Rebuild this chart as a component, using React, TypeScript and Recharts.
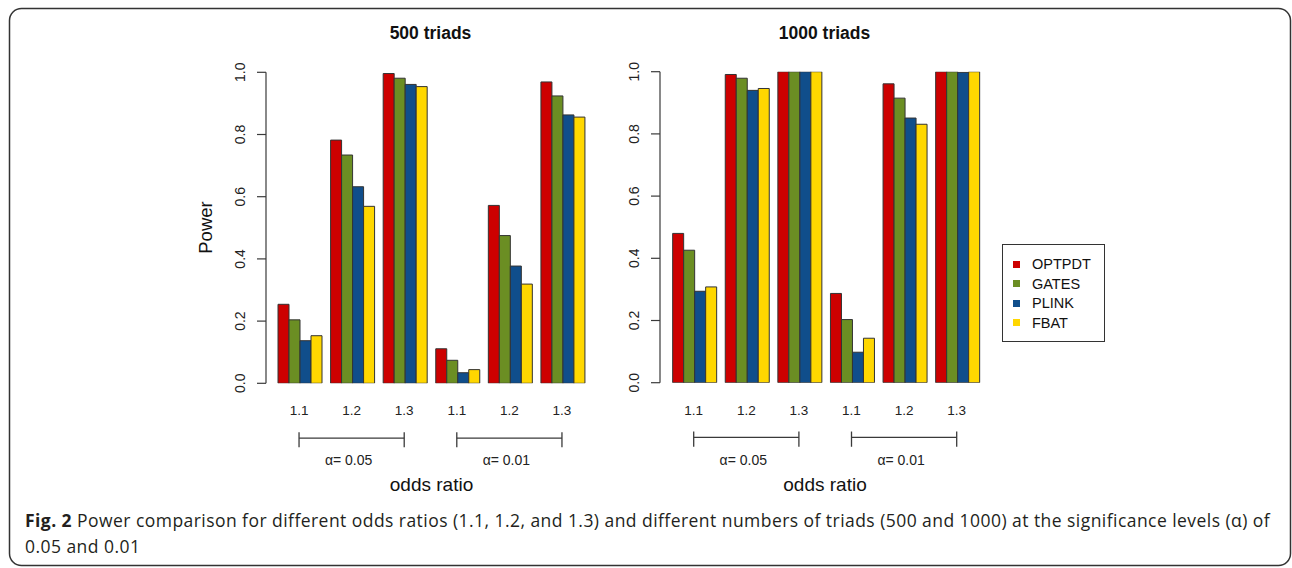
import React from 'react';
import { BarChart, Bar, XAxis, YAxis, ReferenceLine, ReferenceDot, Legend } from 'recharts';

const categories = ['1.1', '1.2', '1.3', '1.1', '1.2', '1.3'];
const groupKeys = ['a05-1.1', 'a05-1.2', 'a05-1.3', 'a01-1.1', 'a01-1.2', 'a01-1.3'];
const seriesNames = ['OPTPDT', 'GATES', 'PLINK', 'FBAT'];
const seriesColors = ['#CD0000', '#6B8E23', '#104E8B', '#FFD700'];
const yTicks = [0, 0.2, 0.4, 0.6, 0.8, 1.0];
const alphaLabels = ['α= 0.05', 'α= 0.01'];
const panelTitles = ['500 triads', '1000 triads'];

const optpdt500 = [0.254, 0.782, 0.996, 0.111, 0.572, 0.969];
const gates500 = [0.204, 0.734, 0.981, 0.074, 0.475, 0.924];
const plink500 = [0.137, 0.632, 0.961, 0.034, 0.377, 0.863];
const fbat500 = [0.153, 0.569, 0.954, 0.044, 0.319, 0.856];

const optpdt1000 = [0.48, 0.991, 1.0, 0.287, 0.961, 1.0];
const gates1000 = [0.426, 0.979, 1.0, 0.203, 0.915, 1.0];
const plink1000 = [0.294, 0.94, 1.0, 0.098, 0.851, 0.998];
const fbat1000 = [0.308, 0.946, 1.0, 0.143, 0.831, 1.0];

const buildData = (s: number[][]) =>
  groupKeys.map((k, i) => ({
    key: k,
    label: categories[i],
    OPTPDT: s[0][i],
    GATES: s[1][i],
    PLINK: s[2][i],
    FBAT: s[3][i],
  }));

const data500 = buildData([optpdt500, gates500, plink500, fbat500]);
const data1000 = buildData([optpdt1000, gates1000, plink1000, fbat1000]);

const FONT = '"Liberation Sans", Arial, Helvetica, sans-serif';
const CAPFONT = '"Open Sans", sans-serif';
const AXIS = '#3a3a3a';

const YTick = (p: any) => {
  const bx = p.x - 10;
  return (
    <text
      x={bx}
      y={p.y}
      transform={`rotate(-90, ${bx}, ${p.y})`}
      textAnchor="middle"
      fontFamily={FONT}
      fontSize={14}
      fill="#222"
    >
      {Number(p.payload.value).toFixed(1)}
    </text>
  );
};

const XTick = (p: any) => {
  const idx = groupKeys.indexOf(p.payload.value);
  return (
    <text x={p.x} y={p.y + 32} textAnchor="middle" fontFamily={FONT} fontSize={13.5} fill="#222">
      {categories[idx]}
    </text>
  );
};

const LegendBox = (props: any) => {
  const payload = [...(props.payload || [])].sort(
    (a: any, b: any) => seriesNames.indexOf(a.value) - seriesNames.indexOf(b.value)
  );
  return (
    <div
      style={{
        position: 'relative',
        width: 103,
        height: 98,
        boxSizing: 'border-box',
        border: '1px solid #333',
        background: '#fff',
      }}
    >
      {payload.map((e: any, i: number) => (
        <div key={e.value} style={{ position: 'absolute', left: 0, top: 11 + i * 19.5, height: 16, width: 100 }}>
          <div style={{ position: 'absolute', left: 10, top: 4.5, width: 7, height: 7, background: e.color }} />
          <div
            style={{
              position: 'absolute',
              left: 29,
              top: 0,
              lineHeight: '16px',
              fontFamily: FONT,
              fontSize: 14.5,
              color: '#111',
              whiteSpace: 'nowrap',
            }}
          >
            {e.value}
          </div>
        </div>
      ))}
    </div>
  );
};

const AlphaText = (label: string) => (p: any) => (
  <text x={p.cx - 3} y={p.cy} textAnchor="middle" fontFamily={FONT} fontSize={14} fill="#222">
    {label}
  </text>
);

type PanelProps = {
  data: any[];
  left: number;
  width: number;
  margin: { top: number; right: number; bottom: number; left: number };
  yAxisWidth: number;
  padding: { left: number; right: number };
  showLegend?: boolean;
  legendLeft?: number;
};

const Panel = ({ data, left, width, margin, yAxisWidth, padding, showLegend, legendLeft }: PanelProps) => (
  <div style={{ position: 'absolute', left, top: 0 }}>
    <BarChart width={width} height={500} data={data} margin={margin} barCategoryGap="10%" barGap={0}>
      <XAxis
        dataKey="key"
        axisLine={false}
        tickLine={false}
        tickSize={0}
        tickMargin={0}
        tick={<XTick />}
        interval={0}
        padding={padding}
        height={30}
      />
      <YAxis
        domain={[0, 1]}
        ticks={yTicks}
        width={yAxisWidth}
        axisLine={{ stroke: AXIS, strokeWidth: 1.2 }}
        tickLine={{ stroke: AXIS, strokeWidth: 1.2 }}
        tickSize={9}
        tickMargin={2}
        tick={<YTick />}
        allowDataOverflow
      />
      {seriesNames.map((s, i) => (
        <Bar key={s} dataKey={s} name={s} fill={seriesColors[i]} stroke="#333" strokeWidth={1} isAnimationActive={false} />
      ))}
      {[0, 3].map((g) => (
        <ReferenceLine
          key={'h' + g}
          segment={[
            { x: groupKeys[g], y: -0.176 },
            { x: groupKeys[g + 2], y: -0.176 },
          ]}
          stroke={AXIS}
          strokeWidth={1.3}
          ifOverflow="visible"
        />
      ))}
      {[0, 2, 3, 5].map((g) => (
        <ReferenceLine
          key={'v' + g}
          segment={[
            { x: groupKeys[g], y: -0.157 },
            { x: groupKeys[g], y: -0.206 },
          ]}
          stroke={AXIS}
          strokeWidth={1.3}
          ifOverflow="visible"
        />
      ))}
      {[1, 4].map((g, j) => (
        <ReferenceDot
          key={'a' + g}
          x={groupKeys[g]}
          y={-0.264}
          r={0}
          ifOverflow="visible"
          shape={AlphaText(alphaLabels[j])}
        />
      ))}
      {showLegend && (
        <Legend
          layout="vertical"
          align="center"
          verticalAlign="middle"
          content={<LegendBox />}
          wrapperStyle={{ position: 'absolute', left: legendLeft, top: 244, width: 103, height: 98 }}
        />
      )}
    </BarChart>
  </div>
);

const Overlay = () => (
  <svg width={1292} height={568} style={{ position: 'absolute', left: 0, top: 0 }}>
    <rect x={9.5} y={8.5} width={1281} height={557} rx={12} ry={12} fill="#fff" stroke="#333" strokeWidth={1.5} />
    <text x={430.5} y={38.5} textAnchor="middle" fontFamily={FONT} fontWeight="bold" fontSize={17.5} fill="#111">
      {panelTitles[0]}
    </text>
    <text x={824.5} y={38.5} textAnchor="middle" fontFamily={FONT} fontWeight="bold" fontSize={17.5} fill="#111">
      {panelTitles[1]}
    </text>
    <text
      x={211.5}
      y={227.5}
      transform="rotate(-90, 211.5, 227.5)"
      textAnchor="middle"
      fontFamily={FONT}
      fontSize={18.5}
      fill="#111"
    >
      Power
    </text>
    <text x={431.5} y={491} textAnchor="middle" fontFamily={FONT} fontSize={19} fill="#111">
      odds ratio
    </text>
    <text x={825} y={491} textAnchor="middle" fontFamily={FONT} fontSize={19} fill="#111">
      odds ratio
    </text>
    <text x={25} y={527} fontFamily={CAPFONT} fontSize={17.5} letterSpacing={0.45} fill="#231f20">
      <tspan fontWeight="bold">Fig. 2</tspan>
      {' Power comparison for different odds ratios (1.1, 1.2, and 1.3) and different numbers of triads (500 and 1000) at the significance levels (α) of'}
    </text>
    <text x={25} y={553} fontFamily={CAPFONT} fontSize={17.5} letterSpacing={0.45} fill="#231f20">
      0.05 and 0.01
    </text>
  </svg>
);

export default function App() {
  return (
    <div style={{ position: 'absolute', left: 0, top: 0, width: 1292, height: 568, background: '#fff', overflow: 'hidden' }}>
      <Overlay />
      <Panel
        data={data500}
        left={0}
        width={600}
        margin={{ top: 72.3, right: 5, bottom: 86.7, left: 196 }}
        yAxisWidth={70}
        padding={{ left: 6.75, right: 6.75 }}
      />
      <Panel
        data={data1000}
        left={600}
        width={692}
        margin={{ top: 71.7, right: 302.6, bottom: 87.3, left: 0 }}
        yAxisWidth={60}
        padding={{ left: 7.4, right: 6.4 }}
        showLegend
        legendLeft={402}
      />
    </div>
  );
}
